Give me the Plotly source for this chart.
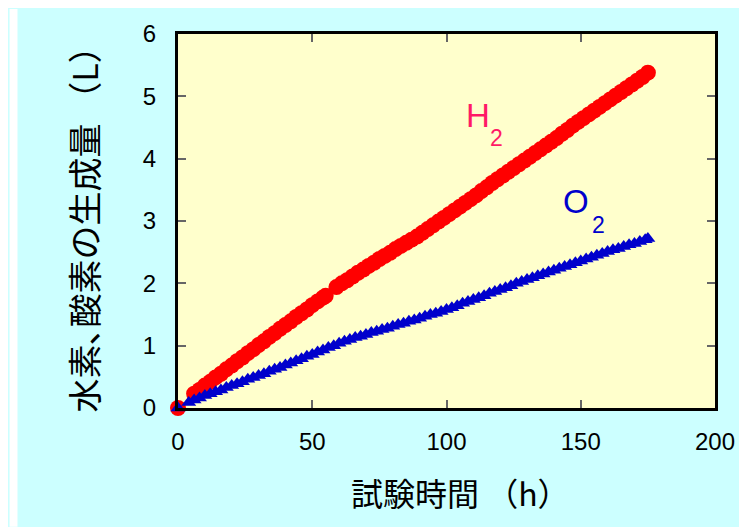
import plotly.graph_objects as go

# ---- data ----
h2_time = [0,
           6, 8, 10, 12, 14, 16, 18, 20, 22, 24, 26, 28, 30, 32, 34, 36, 38, 40, 42, 44, 46, 48, 50, 52, 54, 55,
           59, 61, 63, 65, 67, 69, 71, 73, 75, 77, 79, 81, 83, 85, 87, 89, 91, 93, 95, 97, 99, 101, 103, 105,
           107, 109, 111, 113, 115, 117, 119, 121, 123, 125, 127, 129, 131, 133, 135, 137, 139, 141, 143, 145,
           147, 149, 151, 153, 155, 157, 159, 161, 163, 165, 167, 169, 171, 173, 175]
h2_vol = [0.00,
          0.23, 0.29, 0.36, 0.42, 0.49, 0.55, 0.62, 0.68, 0.75, 0.81, 0.88, 0.94, 1.01, 1.07, 1.14, 1.20, 1.27,
          1.33, 1.39, 1.46, 1.52, 1.58, 1.65, 1.71, 1.77, 1.80,
          1.94, 2.00, 2.05, 2.11, 2.17, 2.22, 2.28, 2.33, 2.39, 2.44, 2.49, 2.55, 2.60, 2.65, 2.70, 2.75, 2.81,
          2.87, 2.93, 2.99, 3.05, 3.11, 3.17, 3.23, 3.29, 3.35, 3.41, 3.48, 3.54, 3.61, 3.67, 3.73, 3.79, 3.85,
          3.91, 3.97, 4.03, 4.09, 4.15, 4.21, 4.27, 4.33, 4.40, 4.46, 4.53, 4.59, 4.65, 4.71, 4.77, 4.83, 4.89,
          4.95, 5.01, 5.07, 5.13, 5.19, 5.25, 5.31, 5.38]

o2_time = [0, 4, 6, 8, 10, 12, 14, 16, 18, 20, 22, 24, 26, 28, 30, 32, 34, 36, 38, 40, 42, 44, 46, 48, 50,
           52, 54, 56, 58, 60, 62, 64, 66, 68, 70, 72, 74, 76, 78, 80, 82, 84, 86, 88, 90, 92, 94, 96, 98, 100,
           102, 104, 106, 108, 110, 112, 114, 116, 118, 120, 122, 124, 126, 128, 130, 132, 134, 136, 138, 140,
           142, 144, 146, 148, 150, 152, 154, 156, 158, 160, 162, 164, 166, 168, 170, 172, 174, 175]
o2_vol = [0.00, 0.09, 0.13, 0.16, 0.20, 0.23, 0.26, 0.29, 0.33, 0.36, 0.39, 0.42, 0.46, 0.49, 0.52, 0.55,
          0.59, 0.62, 0.65, 0.69, 0.72, 0.76, 0.79, 0.83, 0.86, 0.90, 0.93, 0.97, 1.00, 1.04, 1.07, 1.10, 1.13,
          1.15, 1.18, 1.21, 1.23, 1.26, 1.28, 1.31, 1.34, 1.36, 1.39, 1.41, 1.44, 1.47, 1.50, 1.52, 1.55, 1.58,
          1.61, 1.64, 1.68, 1.71, 1.74, 1.77, 1.80, 1.84, 1.87, 1.90, 1.93, 1.96, 2.00, 2.03, 2.06, 2.09, 2.12,
          2.15, 2.18, 2.21, 2.24, 2.27, 2.30, 2.33, 2.36, 2.39, 2.42, 2.45, 2.48, 2.51, 2.54, 2.56, 2.59, 2.62,
          2.64, 2.67, 2.70, 2.72]

x_ticks = [0, 50, 100, 150, 200]
y_ticks = [0, 1, 2, 3, 4, 5, 6]

x_title = "試験時間 （h）"
y_title = "水素､酸素の生成量 （L）"

FONT = "Liberation Sans, Arial, Noto Sans CJK JP, sans-serif"
CJK = "Noto Sans CJK JP, sans-serif"

fig = go.Figure()
fig.add_trace(go.Scatter(x=h2_time, y=h2_vol, mode="markers", name="H2",
                         marker=dict(symbol="circle", size=16, color="#ff0000"),
                         cliponaxis=False))
fig.add_trace(go.Scatter(x=o2_time, y=o2_vol, mode="markers", name="O2",
                         marker=dict(symbol="triangle-up", size=13, color="#0000cc"),
                         cliponaxis=False))

axis_common = dict(showline=True, linewidth=3, linecolor="black", mirror="ticks",
                   ticks="inside", ticklen=8, tickwidth=1.5, tickcolor="#666666",
                   showgrid=False, zeroline=False,
                   tickfont=dict(family=FONT, size=24, color="black"))
fig.update_xaxes(range=[0, 200], tickvals=x_ticks, ticklabelstandoff=10, **axis_common)
fig.update_yaxes(range=[0, 6], tickvals=y_ticks, ticklabelstandoff=14, **axis_common)

# page body has an 8px margin; figure coordinates are offset by it
OFF = 8
W, H = 747 - OFF, 527 - OFF
L, R, T, B = 178 - OFF, 747 - 720, 33 - OFF, 527 - 408
pw, ph = W - L - R, H - T - B

def px(x):
    return (x - OFF - L) / pw

def py(y):
    return (H - B - (y - OFF)) / ph

ann = [
    dict(text=x_title, x=px(463), y=py(492), font=dict(family=CJK, size=32, color="black")),
    dict(text=y_title, x=px(83), y=py(220), textangle=-90, font=dict(family=CJK, size=34, color="black")),
]
for a in ann:
    a.update(xref="paper", yref="paper", showarrow=False, xanchor="center", yanchor="middle")

labels = [
    dict(text="H", x=111.6, y=4.69, size=33, color="#ff1a66"),
    dict(text="2", x=118.8, y=4.33, size=23, color="#ff1a66"),
    dict(text="O", x=148.3, y=3.31, size=33, color="#0000cc"),
    dict(text="2", x=156.5, y=2.94, size=23, color="#0000cc"),
]
for lb in labels:
    ann.append(dict(text=lb["text"], x=lb["x"], y=lb["y"], xref="x", yref="y", showarrow=False,
                    xanchor="center", yanchor="middle",
                    font=dict(family=FONT, size=lb["size"], color=lb["color"])))

shapes = [
    dict(type="rect", xref="paper", yref="paper", x0=px(OFF), x1=px(16), y0=py(527), y1=py(OFF),
         fillcolor="white", line=dict(width=0), layer="below"),
]

fig.update_layout(width=W, height=H, margin=dict(l=L, r=R, t=T, b=B, pad=0),
                  paper_bgcolor="#ccffff", plot_bgcolor="#ffffcc",
                  showlegend=False, annotations=ann, shapes=shapes,
                  font=dict(family=FONT))

fig.write_html("out.html")
